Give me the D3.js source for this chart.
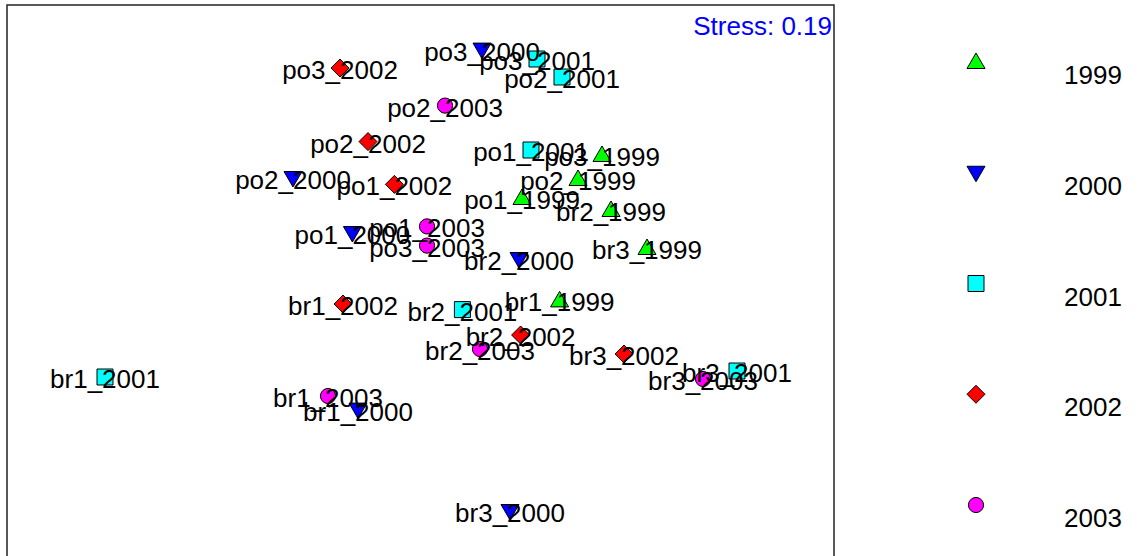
<!DOCTYPE html>
<html>
<head>
  <meta charset="utf-8">
  <title>NMDS ordination</title>
  <script src="https://d3js.org/d3.v7.min.js"></script>
  <style>
    body { margin: 0; background: #fff; }
    text { font-family: "Liberation Sans", Arial, sans-serif; font-size: 26px; }
  </style>
</head>
<body>
  <svg width="1142" height="556"></svg>
  <script>
    // Sample names and NMDS scores (axis 1, axis 2)
    const samples = [
      "po3_2002", "po3_2000", "po3_2001", "po2_2001", "po2_2003", "po2_2002",
      "po1_2001", "po3_1999", "po2_1999", "po2_2000", "po1_2002", "po1_1999",
      "br2_1999", "po1_2003", "po1_2000", "po3_2003", "br3_1999", "br2_2000",
      "br1_2002", "br1_1999", "br2_2001", "br2_2002", "br2_2003", "br3_2002",
      "br3_2001", "br3_2003", "br1_2001", "br1_2003", "br1_2000", "br3_2000"
    ];
    const mds1 = [
      -0.65, 0.06, 0.335, 0.46, -0.125, -0.51,
      0.305, 0.66, 0.54, -0.885, -0.378, 0.26,
      0.705, -0.215, -0.588, -0.215, 0.885, 0.245,
      -0.635, 0.448, -0.038, 0.253, 0.05, 0.77,
      1.335, 1.165, -1.825, -0.71, -0.56, 0.2
    ];
    const mds2 = [
      1.06, 1.152, 1.105, 1.015, 0.872, 0.692,
      0.65, 0.625, 0.505, 0.51, 0.478, 0.41,
      0.35, 0.268, 0.235, 0.172, 0.16, 0.105,
      -0.12, -0.102, -0.148, -0.275, -0.345, -0.37,
      -0.455, -0.495, -0.485, -0.58, -0.648, -1.155
    ];
    const years = ["1999", "2000", "2001", "2002", "2003"];
    const yearColors = ["#00ff00", "#0000ff", "#00ffff", "#ff0000", "#ff00ff"];
    const yearShapes = ["triangleUp", "triangleDown", "square", "diamond", "circle"];
    const stress = 0.19;

    const svg = d3.select("svg");

    // plot region (the frame runs off the bottom of the picture)
    const x = d3.scaleLinear().domain([-2.315, 1.82]).range([7, 834]);
    const y = d3.scaleLinear().domain([-1.38, 1.375]).range([556, 5]);

    // marker path centred on 0,0
    function shapePath(shape) {
      switch (shape) {
        case "triangleUp":   return "M0,-9L9,6.5L-9,6.5Z";
        case "triangleDown": return "M-9,-6.5L9,-6.5L0,9Z";
        case "square":       return "M-8,-8H8V8H-8Z";
        case "diamond":      return "M0,-9L9,0L0,9L-9,0Z";
        default:             return "M7.6,0A7.6,7.6 0 1,1 -7.6,0A7.6,7.6 0 1,1 7.6,0Z";
      }
    }

    const points = samples.map((s, i) => ({
      name: s, x: mds1[i], y: mds2[i], yi: years.indexOf(s.split("_")[1])
    }));

    svg.append("rect")
      .attr("x", 7).attr("y", 5)
      .attr("width", x(1.82) - x(-2.315)).attr("height", 600)
      .attr("fill", "none").attr("stroke", "#222").attr("stroke-width", 1.5);

    svg.selectAll("path.pt")
      .data(points)
      .enter()
      .append("path")
      .attr("class", "pt")
      .attr("transform", d => `translate(${x(d.x)},${y(d.y)})`)
      .attr("d", d => shapePath(yearShapes[d.yi]))
      .attr("fill", d => yearColors[d.yi])
      .attr("stroke", "#000")
      .attr("stroke-width", 1);

    svg.selectAll("text.lab")
      .data(points)
      .enter()
      .append("text")
      .attr("class", "lab")
      .attr("x", d => x(d.x))
      .attr("y", d => y(d.y) + 11)
      .attr("text-anchor", "middle")
      .attr("fill", "#000")
      .text(d => d.name);

    svg.append("text")
      .attr("x", 832).attr("y", 35)
      .attr("text-anchor", "end")
      .attr("fill", "#0000ff")
      .text(`Stress: ${stress}`);

    // legend
    const ly = d3.scalePoint().domain(years).range([62, 505]);
    const leg = svg.selectAll("g.leg")
      .data(years)
      .enter()
      .append("g")
      .attr("class", "leg")
      .attr("transform", d => `translate(976,${ly(d)})`);
    leg.append("path")
      .attr("d", (d, i) => shapePath(yearShapes[i]))
      .attr("fill", (d, i) => yearColors[i])
      .attr("stroke", "#000")
      .attr("stroke-width", 1);
    leg.append("text")
      .attr("x", 88)
      .attr("y", 22)
      .attr("fill", "#000")
      .text(d => d);
  </script>
</body>
</html>
